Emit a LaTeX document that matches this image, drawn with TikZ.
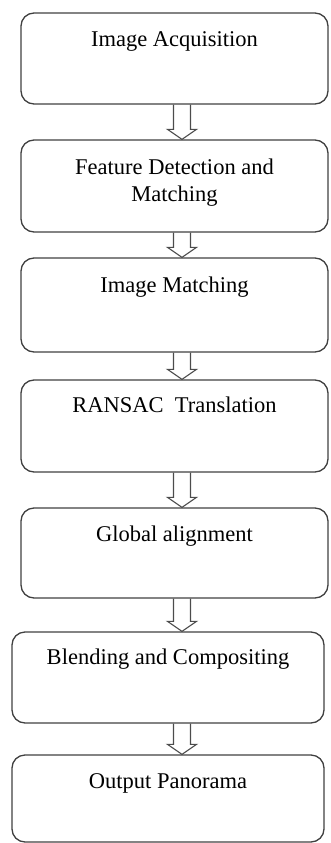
\documentclass[tikz,border=0pt]{standalone}
\usepackage{fontspec}
\setmainfont{Liberation Serif}
\usetikzlibrary{positioning,calc}
\tikzset{
	stage/.style={draw=black!75,line width=1.3pt,rounded corners=13pt,minimum width=307pt,inner sep=0pt},
	lbl/.style={font=\fontsize{22.5}{27}\selectfont,text=black,align=center,inner sep=0pt,anchor=base},
	hollow/.style={draw=black!70,line width=1.1pt,line join=miter}
}
\begin{document}
\begin{tikzpicture}[x=1pt,y=1pt]
	\useasboundingbox (0,0) rectangle (330,-843);
	\coordinate (ax) at (182,0); % all arrows on this line
	% stages
	\node[stage,minimum height=91pt] (acq) at (174.5,-58.5) {};
	\node[stage,minimum height=92pt] (feat) at (174.5,-186) {};
	\node[stage,minimum height=94pt] (imatch) at (174.5,-305) {};
	\node[stage,minimum height=92pt] (ransac) at (174.5,-426) {};
	\node[stage,minimum height=90pt] (glob) at (174.5,-553) {};
	\node[stage,minimum height=91pt,minimum width=312pt] (blend) at (168,-677.5) {};
	\node[stage,minimum height=87pt,minimum width=312pt] (pano) at (168,-798.5) {};
	% texts
	\node[lbl] (acqt) at ([yshift=-34pt]acq.north) {Image Acquisition};
	\node[lbl,anchor=center] (featt) at ([yshift=-43.5pt]feat.north) {Feature Detection and\\Matching};
	\node[lbl] (imatcht) at ([yshift=-35pt]imatch.north) {Image Matching};
	\node[lbl] (ransact) at ([yshift=-33pt]ransac.north) {RANSAC\ \ Translation};
	\node[lbl] (globt) at ([yshift=-34pt]glob.north) {Global alignment};
	\node[lbl] (blendt) at ([yshift=-33pt]blend.north) {Blending and Compositing};
	\node[lbl] (panot) at ([yshift=-34pt]pano.north) {Output Panorama};
	% hollow arrows
	\foreach \a/\b in {acq/feat,feat/imatch,imatch/ransac,ransac/glob,glob/blend,blend/pano}{
		\path (\a.south -| ax) coordinate (s) (\b.north -| ax) coordinate (e);
		\draw[hollow] ([xshift=-8.5pt]s) -- ([shift={(-8.5,10)}]e) -- ([shift={(-14.5,10)}]e) -- (e)
			-- ([shift={(14.5,10)}]e) -- ([shift={(8.5,10)}]e) -- ([xshift=8.5pt]s);
	}
\end{tikzpicture}
\end{document}
